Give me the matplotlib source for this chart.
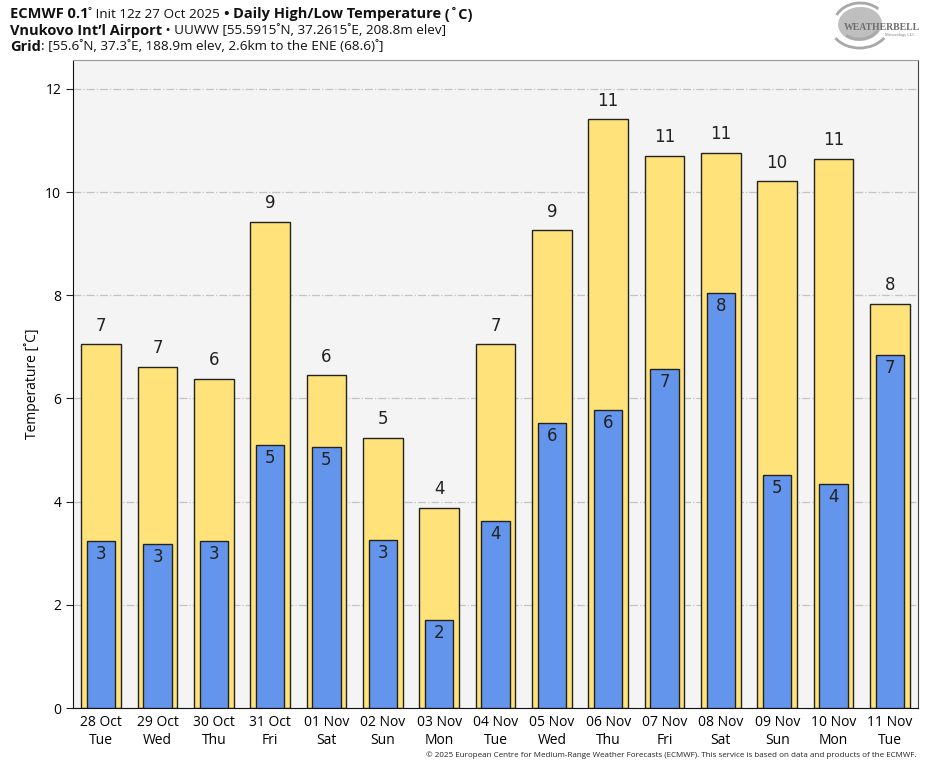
import matplotlib
matplotlib.use('Agg')
import matplotlib.pyplot as plt
import numpy as np
from matplotlib.patches import Ellipse, Arc

plt.rcParams['font.family'] = ['Open Sans', 'DejaVu Sans']

dates = ['28 Oct', '29 Oct', '30 Oct', '31 Oct', '01 Nov', '02 Nov', '03 Nov', '04 Nov',
         '05 Nov', '06 Nov', '07 Nov', '08 Nov', '09 Nov', '10 Nov', '11 Nov']
days = ['Tue', 'Wed', 'Thu', 'Fri', 'Sat', 'Sun', 'Mon', 'Tue',
        'Wed', 'Thu', 'Fri', 'Sat', 'Sun', 'Mon', 'Tue']
highs = [7.05, 6.61, 6.38, 9.42, 6.45, 5.23, 3.88, 7.05, 9.26, 11.41, 10.70, 10.76, 10.21, 10.64, 7.83]
lows = [3.24, 3.18, 3.24, 5.10, 5.06, 3.26, 1.71, 3.62, 5.52, 5.78, 6.57, 8.04, 4.52, 4.34, 6.84]

fig = plt.figure(figsize=(9.35, 7.68), dpi=100)
ax = fig.add_axes([73/935, 1 - 708/768, (918-73)/935, (708-60)/768])
ax.set_facecolor('#f4f4f4')

x = np.arange(len(dates))
ax.bar(x, highs, width=0.7, color='#ffe37a', edgecolor='#222222', linewidth=1, zorder=2)
ax.bar(x, lows, width=0.5, color='#6495ed', edgecolor='#222222', linewidth=1, zorder=3)

for xi, h, l in zip(x, highs, lows):
    ax.annotate('{}'.format(int(round(h))), xy=(xi, h), xytext=(0, 7), textcoords='offset points',
                ha='center', va='bottom', fontsize=12, family='DejaVu Sans', color='#222222', zorder=4)
    ax.annotate('{}'.format(int(round(l))), xy=(xi, l), xytext=(0, -3), textcoords='offset points',
                ha='center', va='top', fontsize=12, family='DejaVu Sans', color='#222222', zorder=4)

ax.set_xlim(-0.5, len(dates) - 0.5)
ax.set_ylim(0, 12.56)
ax.set_yticks([0, 2, 4, 6, 8, 10, 12])
ax.set_xticks(x)
ax.set_xticklabels(['{}\n{}'.format(d, w) for d, w in zip(dates, days)], fontsize=10, linespacing=1.25)
ax.tick_params(axis='y', labelsize=10, length=5, color='#222222')
ax.tick_params(axis='x', length=0, pad=5)
ax.grid(axis='y', color='#c4c4c4', linestyle='-.', linewidth=0.9, zorder=0)
ax.set_axisbelow(True)
ax.set_ylabel('Temperature [\u02daC]', fontsize=10)
for s in ['left', 'bottom']:
    ax.spines[s].set_color('#111111')
ax.spines['right'].set_color('#444444')
ax.spines['top'].set_color('#999999')

# header, drawn piece by piece so bold and normal parts sit on one line
renderer = fig.canvas.get_renderer()
header = [
    [('ECMWF 0.1', 'bold'), ('\u02da Init 12z 27 Oct 2025 ', 'normal'), ('\u2022 ', 'bold'),
     ('Daily High/Low Temperature', 'bold'), (' (\u02daC)', 'bold')],
    [('Vnukovo Int\u2019l Airport', 'bold'), (' \u2022 UUWW [55.5915\u02daN, 37.2615\u02daE, 208.8m elev]', 'normal')],
    [('Grid', 'bold'), (': [55.6\u02daN, 37.3\u02daE, 188.9m elev, 2.6km to the ENE (68.6)\u02da]', 'normal')],
]
line_y = [14, 31, 47]
for pieces, yy in zip(header, line_y):
    xpos = 10
    for txt, wt in pieces:
        fs = 10.5 if wt == 'bold' else 9.7
        t = fig.text(xpos/935, 1 - yy/768, txt, fontsize=fs, fontweight=wt, va='center', ha='left',
                     color='#111111')
        xpos += t.get_window_extent(renderer).width

# logo
cx, cy = 860, 24
fig.patches.append(Ellipse((cx/935, 1 - cy/768), 44/935, 34/768, angle=15, transform=fig.transFigure,
                           facecolor='#b0b0b0', edgecolor='none', alpha=0.8))
for w, h, a in [(52, 42, 30), (60, 48, 200), (40, 30, 210)]:
    fig.patches.append(Arc((cx/935, 1 - cy/768), w/935, h/768, angle=15, theta1=a, theta2=a + 110,
                           transform=fig.transFigure, color='#a8a8a8', linewidth=2))
fig.text(882/935, 1 - 27/768, 'WEATHERBELL', fontsize=7, fontweight='bold', color='#6e6e6e',
         ha='center', va='center', family='Liberation Serif')
fig.text(900/935, 1 - 35/768, 'Meteorology LLC', fontsize=3, color='#777777',
         ha='center', va='center', family='Liberation Serif')

fig.text(917/935, 1 - 755/768,
         '\u00a9 2025 European Centre for Medium-Range Weather Forecasts (ECMWF). This service is based on data and products of the ECMWF.',
         fontsize=5.8, ha='right', va='center', color='#222222')

fig.savefig('out.png', dpi=100)
